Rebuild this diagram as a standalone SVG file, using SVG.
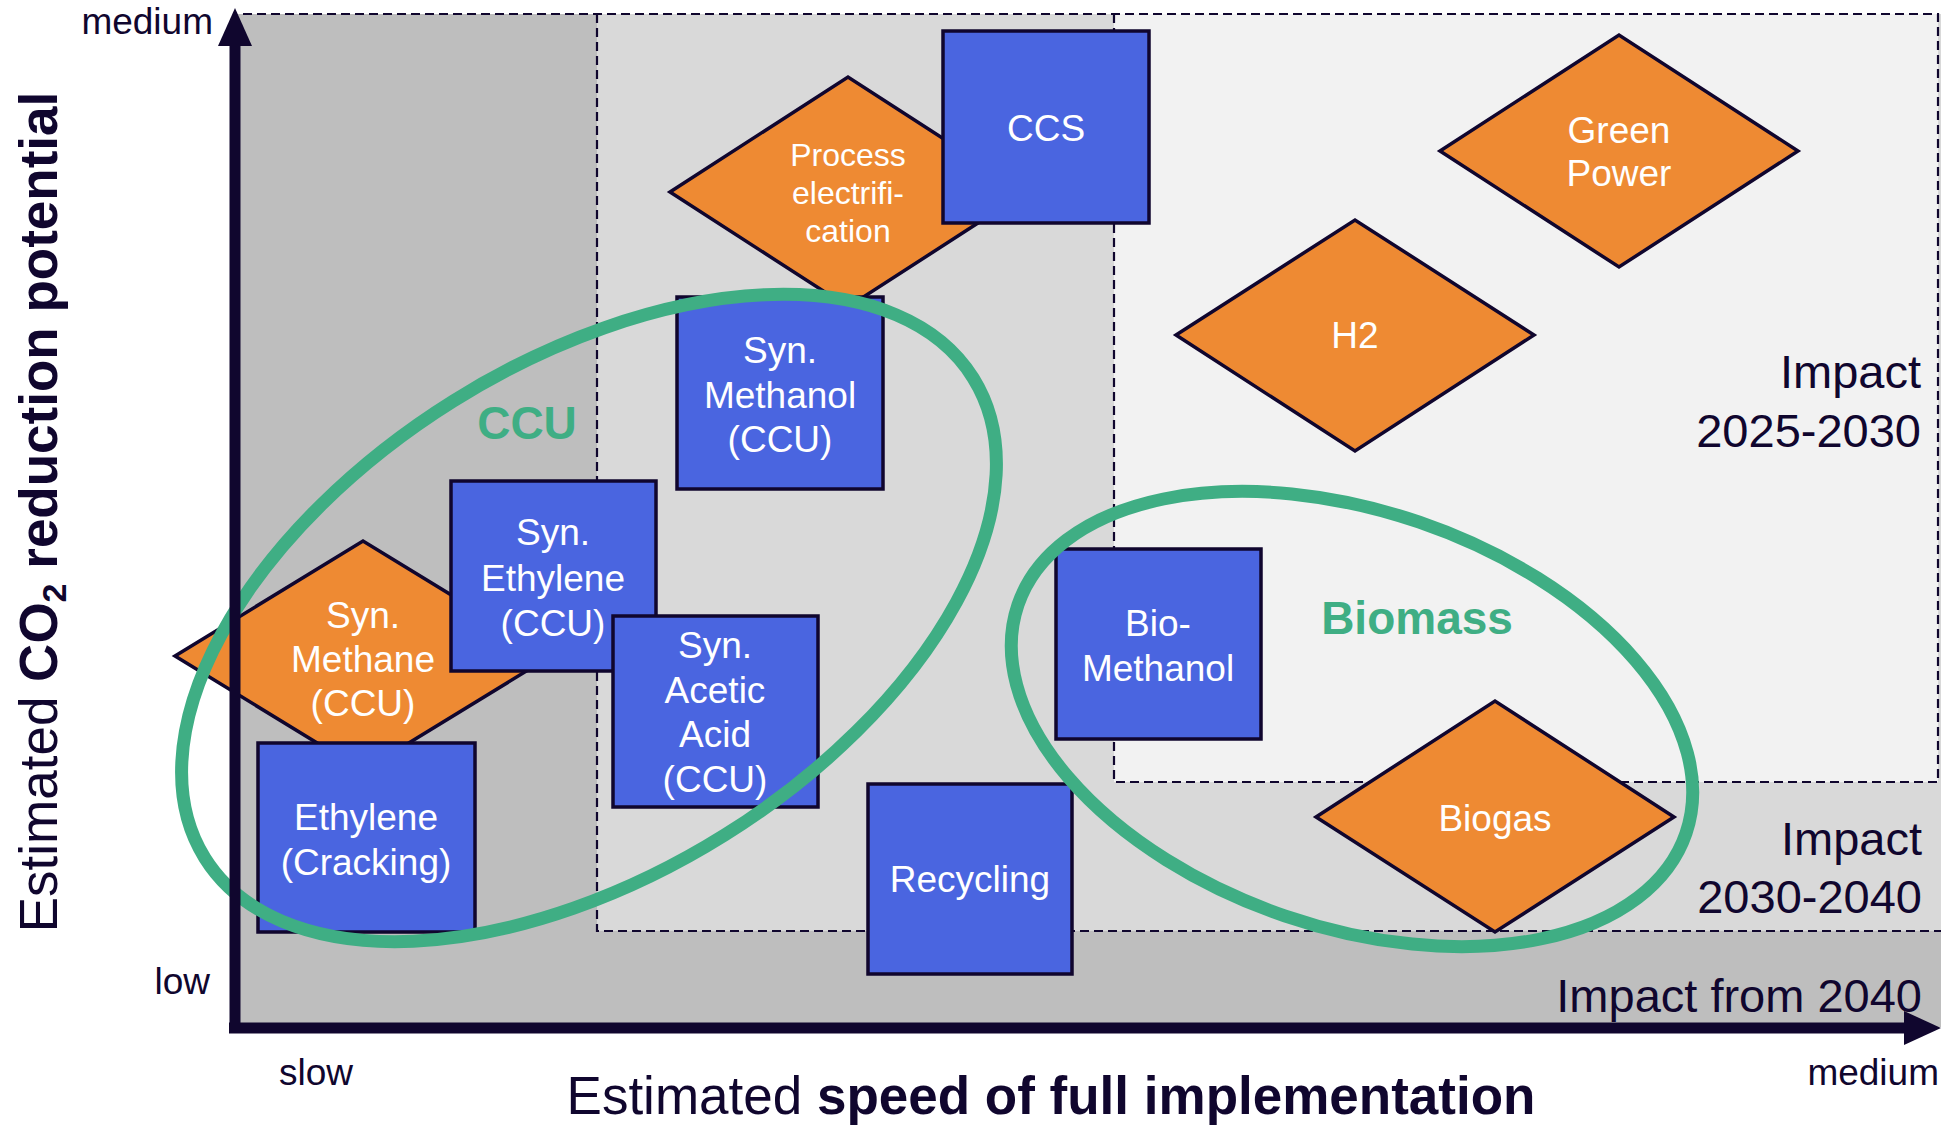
<svg xmlns="http://www.w3.org/2000/svg" width="1941" height="1126" viewBox="0 0 1941 1126">
<style>
text{font-family:"Liberation Sans",Arial,sans-serif}
.box{fill:#4A65E0;stroke:#10062E;stroke-width:3.5}
.dia{fill:#EE8A33;stroke:#10062E;stroke-width:3.5}
.nt{fill:#fff;font-size:37px;text-anchor:middle}
.nts{fill:#fff;font-size:32px;text-anchor:middle}
.dash{stroke:#10062E;stroke-width:2.2;stroke-dasharray:9 5;fill:none}
.lab{fill:#10062E;font-size:37px}
.zone{fill:#10062E;font-size:47px;text-anchor:end}
.grp{fill:none;stroke:#3FAE84;stroke-width:13}
.gl{fill:#3FAE84;font-size:46px;font-weight:bold;text-anchor:middle}
.ax{fill:#10062E;font-size:53px}
.axis{stroke:#10062E;stroke-width:11;fill:none}
.head{fill:#10062E}
</style>
<rect x="0" y="0" width="1941" height="1126" fill="#fff"/>
<g id="zones">
<rect x="235" y="14" width="1706" height="1013" fill="#BEBEBE"/>
<rect x="597" y="14" width="1344" height="917" fill="#D9D9D9"/>
<rect x="1114" y="14" width="824" height="768" fill="#F2F2F2"/>
<path class="dash" d="M243 14H1938V782M597 14V931H1941M1114 14V782H1938"/>
</g>
<g id="node-process-electrification">
<polygon class="dia" points="670,192 848,77 1026,192 848,307"/>
<text class="nts" x="848" y="166">Process</text>
<text class="nts" x="848" y="204">electrifi-</text>
<text class="nts" x="848" y="242">cation</text>
</g>
<g id="node-ccs">
<rect class="box" x="943" y="31" width="206" height="192"/>
<text class="nt" x="1046" y="141">CCS</text>
</g>
<g id="node-green-power">
<polygon class="dia" points="1440,151 1619,35 1798,151 1619,267"/>
<text class="nt" x="1619" y="143">Green</text>
<text class="nt" x="1619" y="186">Power</text>
</g>
<g id="node-h2">
<polygon class="dia" points="1176,335 1355,220 1534,335 1355,451"/>
<text class="nt" x="1355" y="348">H2</text>
</g>
<g id="node-syn-methanol">
<rect class="box" x="677" y="297" width="206" height="192"/>
<text class="nt" x="780" y="363">Syn.</text>
<text class="nt" x="780" y="408">Methanol</text>
<text class="nt" x="780" y="452">(CCU)</text>
</g>
<g id="node-syn-methane">
<polygon class="dia" points="175,656 363,541 551,656 363,771"/>
<text class="nt" x="363" y="628">Syn.</text>
<text class="nt" x="363" y="672">Methane</text>
<text class="nt" x="363" y="716">(CCU)</text>
</g>
<g id="node-syn-ethylene">
<rect class="box" x="451" y="481" width="205" height="190"/>
<text class="nt" x="553" y="545">Syn.</text>
<text class="nt" x="553" y="591">Ethylene</text>
<text class="nt" x="553" y="636">(CCU)</text>
</g>
<g id="node-syn-acetic-acid">
<rect class="box" x="613" y="616" width="205" height="191"/>
<text class="nt" x="715" y="658">Syn.</text>
<text class="nt" x="715" y="703">Acetic</text>
<text class="nt" x="715" y="747">Acid</text>
<text class="nt" x="715" y="792">(CCU)</text>
</g>
<g id="node-ethylene-cracking">
<rect class="box" x="258" y="743" width="217" height="189"/>
<text class="nt" x="366" y="830">Ethylene</text>
<text class="nt" x="366" y="875">(Cracking)</text>
</g>
<g id="node-recycling">
<rect class="box" x="868" y="784" width="204" height="190"/>
<text class="nt" x="970" y="892">Recycling</text>
</g>
<g id="node-bio-methanol">
<rect class="box" x="1056" y="549" width="205" height="190"/>
<text class="nt" x="1158" y="636">Bio-</text>
<text class="nt" x="1158" y="681">Methanol</text>
</g>
<g id="node-biogas">
<polygon class="dia" points="1316,817 1495,701 1674,817 1495,932"/>
<text class="nt" x="1495" y="831">Biogas</text>
</g>
<g id="groups">
<ellipse class="grp" cx="589" cy="618" rx="453" ry="256" transform="rotate(-32 589 618)"/>
<text class="gl" x="527" y="439">CCU</text>
<ellipse class="grp" cx="1352" cy="719" rx="353" ry="208" transform="rotate(18.9 1352 719)"/>
<text class="gl" x="1417" y="634">Biomass</text>
</g>
<g id="zone-labels">
<text class="zone" x="1921" y="388">Impact</text>
<text class="zone" x="1921" y="447">2025-2030</text>
<text class="zone" x="1922" y="855">Impact</text>
<text class="zone" x="1922" y="913">2030-2040</text>
<text class="zone" x="1922" y="1012">Impact from 2040</text>
</g>
<g id="connectors">
<path class="axis" d="M235 1032V40"/>
<polygon class="head" points="235,8 218,46 252,46"/>
<path class="axis" d="M229 1028H1910"/>
<polygon class="head" points="1941,1028 1904,1011 1904,1045"/>
</g>
<g id="axis-labels">
<text class="lab" x="213" y="34" text-anchor="end">medium</text>
<text class="lab" x="210" y="994" text-anchor="end">low</text>
<text class="lab" x="316" y="1085" text-anchor="middle">slow</text>
<text class="lab" x="1939" y="1085" text-anchor="end">medium</text>
<text class="ax" x="1051" y="1114" text-anchor="middle">Estimated <tspan font-weight="bold">speed of full implementation</tspan></text>
<text class="ax" transform="translate(57 512) rotate(-90)" text-anchor="middle">Estimated <tspan font-weight="bold">CO</tspan><tspan font-weight="bold" font-size="34" dy="9">2</tspan><tspan font-weight="bold" dy="-9"> reduction potential</tspan></text>
</g>
</svg>
